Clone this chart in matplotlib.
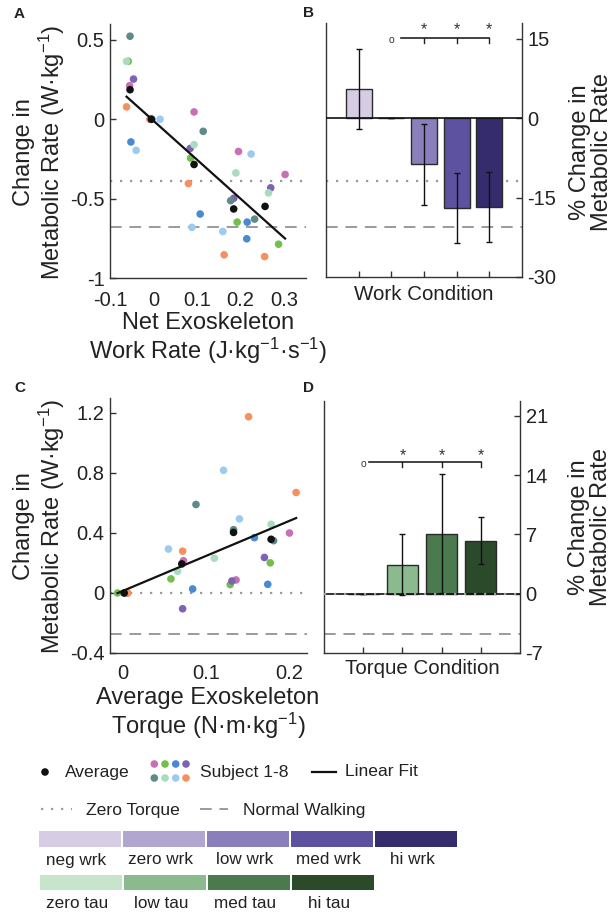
import numpy as np
import matplotlib
matplotlib.use("Agg")
import matplotlib.pyplot as plt
from matplotlib.patches import Rectangle
from matplotlib.lines import Line2D

plt.rcParams['font.family'] = ['Liberation Sans', 'DejaVu Sans']
plt.rcParams['mathtext.fontset'] = 'custom'
plt.rcParams['mathtext.rm'] = 'Liberation Sans'
plt.rcParams['mathtext.it'] = 'Liberation Sans:italic'
plt.rcParams['mathtext.bf'] = 'Liberation Sans:bold'
plt.rcParams['text.color'] = '#222222'

# ---------------- data ----------------
subject_colors = ['#c870b5', '#72bf4e', '#4a8ad5', '#7c63b3',
                  '#5e8a89', '#a9dcbf', '#9dcbef', '#f6905f']

# Panel A: net exoskeleton work rate vs change in metabolic rate (per subject, per condition)
work_x = {
    'neg':  [-0.055, -0.058, -0.052, -0.046, -0.054, -0.062, -0.040, -0.062],
    'zero': [-0.008, -0.006, -0.004, -0.005, -0.006, -0.004, 0.015, -0.008],
    'low':  [0.093, 0.085, 0.107, 0.084, 0.114, 0.093, 0.088, 0.080],
    'med':  [0.195, 0.192, 0.214, 0.184, 0.177, 0.189, 0.159, 0.162],
    'hi':   [0.302, 0.287, 0.215, 0.269, 0.232, 0.264, 0.224, 0.255],
}
work_y = {
    'neg':  [0.211, 0.365, -0.143, 0.253, 0.523, 0.365, -0.196, 0.078],
    'zero': [0.0, 0.0, 0.0, 0.0, 0.0, 0.0, 0.0, 0.0],
    'low':  [0.046, -0.245, -0.597, -0.184, -0.076, -0.160, -0.681, -0.405],
    'med':  [-0.203, -0.648, -0.753, -0.498, -0.513, -0.338, -0.707, -0.854],
    'hi':   [-0.348, -0.787, -0.648, -0.432, -0.629, -0.464, -0.219, -0.865],
}
work_avg_x = [-0.054, -0.005, 0.093, 0.184, 0.256]
work_avg_y = [0.186, 0.0, -0.285, -0.565, -0.549]
work_zero_torque = -0.39
work_normal_walk = -0.68

# Panel B: percent change in metabolic rate per work condition
work_labels = ['neg wrk', 'zero wrk', 'low wrk', 'med wrk', 'hi wrk']
work_pct = [5.5, 0.0, -8.7, -17.0, -16.7]
work_pct_err = [7.6, 0.0, 7.7, 6.6, 6.6]
work_colors = ['#d6cde5', '#b1a6d0', '#8a7fba', '#5d52a0', '#352c6d']
work_pct_zero_torque = -11.8
work_pct_normal_walk = -20.5

# Panel C: average exoskeleton torque vs change in metabolic rate
tau_x = {
    'zero': [0.004, -0.006, 0.006, 0.004, 0.003, 0.002, 0.004, 0.006],
    'low':  [0.073, 0.058, 0.084, 0.072, 0.088, 0.066, 0.055, 0.072],
    'med':  [0.136, 0.129, 0.158, 0.131, 0.133, 0.110, 0.121, 0.151],
    'hi':   [0.200, 0.177, 0.174, 0.170, 0.181, 0.178, 0.140, 0.208],
}
tau_y = {
    'zero': [0.0, 0.0, 0.0, 0.0, 0.0, 0.0, 0.0, 0.0],
    'low':  [0.215, 0.094, 0.027, -0.105, 0.590, 0.145, 0.293, 0.279],
    'med':  [0.087, 0.056, 0.369, 0.080, 0.422, 0.232, 0.818, 1.175],
    'hi':   [0.400, 0.201, 0.058, 0.237, 0.349, 0.458, 0.494, 0.670],
}
tau_avg_x = [0.002, 0.071, 0.133, 0.178]
tau_avg_y = [0.0, 0.194, 0.404, 0.358]
tau_zero_torque = 0.0
tau_normal_walk = -0.275

# Panel D: percent change in metabolic rate per torque condition
tau_labels = ['zero tau', 'low tau', 'med tau', 'hi tau']
tau_pct = [0.0, 3.4, 7.1, 6.25]
tau_pct_err = [0.0, 3.6, 7.0, 2.8]
tau_colors = ['#c6e5cb', '#8bba8f', '#4a7a4e', '#2a4a2a']
tau_pct_normal_walk = -4.8

# ---------------- styling helpers ----------------
AX_COL = '#333333'
GRAY = '#9a9a9a'
TICK_FS = 14.5
LABEL_FS = 17
COND_FS = 14.8
W_PX, H_PX = 615, 915


def style_axes(ax):
    for s in ax.spines.values():
        s.set_color(AX_COL)
        s.set_linewidth(1.0)
    ax.tick_params(direction='in', length=4, width=1.0, color=AX_COL,
                   labelsize=TICK_FS, labelcolor='#222222', pad=4)


def px_axes(fig, left, top, right, bottom):
    return fig.add_axes([left / W_PX, 1 - bottom / H_PX,
                         (right - left) / W_PX, (bottom - top) / H_PX])


def ftext(fig, x, y, s, **kw):
    return fig.text(x / W_PX, 1 - y / H_PX, s, **kw)


fig = plt.figure(figsize=(6.15, 9.15), dpi=100)

YLAB = 'Change in\nMetabolic Rate (W·kg$^{-1}$)'
PCT_LAB = '% Change in\nMetabolic Rate'

# ---------------- Panel A ----------------
axA = px_axes(fig, 110, 24, 306, 278)
style_axes(axA)
axA.spines['top'].set_visible(False)
axA.spines['right'].set_visible(False)
axA.set_xlim(-0.1, 0.35)
axA.set_ylim(-1.0, 0.6)
axA.set_xticks([-0.1, 0, 0.1, 0.2, 0.3])
axA.set_xticklabels(['-0.1', '0', '0.1', '0.2', '0.3'])
axA.set_yticks([-1, -0.5, 0, 0.5])
axA.set_yticklabels(['-1', '-0.5', '0', '0.5'])
axA.tick_params(axis='x', length=0, pad=9)
axA.axhline(work_zero_torque, color=GRAY, ls=(0, (1, 3.5)), lw=1.6, zorder=1)
axA.axhline(work_normal_walk, color=GRAY, ls=(0, (6, 4)), lw=1.4, zorder=1)
for cond in work_x:
    axA.scatter(work_x[cond], work_y[cond], s=30, c=subject_colors, edgecolors='none', zorder=3)
axA.scatter(work_avg_x, work_avg_y, s=30, c='#111111', edgecolors='none', zorder=4)
allx = np.concatenate([work_x[c] for c in work_x])
ally = np.concatenate([work_y[c] for c in work_y])
p = np.polyfit(allx, ally, 1)
fx = np.array([allx.min(), allx.max()])
axA.plot(fx, np.polyval(p, fx), color='#111111', lw=1.6, zorder=5)
ftext(fig, 40, 152, YLAB, fontsize=LABEL_FS, rotation=90, ha='center', va='center',
      linespacing=1.05, multialignment='center')
ftext(fig, 208, 339, 'Net Exoskeleton\nWork Rate (J·kg$^{-1}$·s$^{-1}$)', fontsize=LABEL_FS,
      ha='center', va='center', linespacing=1.05, multialignment='center')
ftext(fig, 14, 14, 'A', fontsize=11, fontweight='bold', va='center', ha='left')


def bar_panel(ax, vals, errs, colors, ylim, yticks):
    style_axes(ax)
    ax.spines['top'].set_visible(False)
    n = len(vals)
    pos = np.arange(1, n + 1)
    ax.set_xlim(0, n + 1)
    ax.set_ylim(*ylim)
    ax.bar(pos, vals, width=0.8, color=colors, edgecolor='#2a2a2a', linewidth=1.0, zorder=3)
    ax.errorbar(pos, vals, yerr=errs, fmt='none', ecolor='#111111', elinewidth=1.0,
                capsize=2.5, capthick=1.0, zorder=4)
    ax.set_xticks(pos)
    ax.set_xticklabels([])
    ax.yaxis.tick_right()
    ax.set_yticks(yticks)
    ax.set_yticklabels([str(t) for t in yticks])
    ax.tick_params(axis='y', left=False)
    return pos


def sig_bracket(ax, pos, y, tick_drop, star_y, x_start, circle_x):
    ax.plot([x_start, pos[-1]], [y, y], color='#222222', lw=1.2, zorder=5)
    for xp in pos:
        ax.plot([xp, xp], [y, y - tick_drop], color='#222222', lw=1.0, zorder=5)
        ax.text(xp, star_y, '*', ha='center', va='center', fontsize=11.5, color='#333333')
    ax.text(circle_x, y - tick_drop * 0.4, 'o', ha='center', va='center', fontsize=7.5,
            color='#333333')


# ---------------- Panel B ----------------
axB = px_axes(fig, 326, 23, 522, 277)
posB = bar_panel(axB, work_pct, work_pct_err, work_colors, (-30, 18), [-30, -15, 0, 15])
axB.axhline(0, color='#111111', lw=1.2, zorder=5)
axB.axhline(work_pct_zero_torque, color=GRAY, ls=(0, (1, 3.5)), lw=1.6, zorder=1)
axB.axhline(work_pct_normal_walk, color=GRAY, ls=(0, (6, 4)), lw=1.4, zorder=1)
sig_bracket(axB, posB[2:], 15.2, 1.0, 16.8, 2.3, 2.0)
ftext(fig, 424, 295, 'Work Condition', fontsize=COND_FS, ha='center', va='center')
ftext(fig, 591, 152, PCT_LAB, fontsize=LABEL_FS, rotation=90, ha='center', va='center',
      linespacing=1.05, multialignment='center')
ftext(fig, 303, 13, 'B', fontsize=11, fontweight='bold', va='center', ha='left')

# ---------------- Panel C ----------------
axC = px_axes(fig, 110, 398, 307, 653)
style_axes(axC)
axC.spines['top'].set_visible(False)
axC.spines['right'].set_visible(False)
axC.set_xlim(-0.015, 0.221)
axC.set_ylim(-0.4, 1.3)
axC.set_xticks([0, 0.1, 0.2])
axC.set_xticklabels(['0', '0.1', '0.2'])
axC.set_yticks([-0.4, 0, 0.4, 0.8, 1.2])
axC.set_yticklabels(['-0.4', '0', '0.4', '0.8', '1.2'])
axC.tick_params(axis='x', length=0, pad=8)
axC.axhline(tau_zero_torque, color=GRAY, ls=(0, (1, 3.5)), lw=1.6, zorder=1)
axC.axhline(tau_normal_walk, color=GRAY, ls=(0, (6, 4)), lw=1.4, zorder=1)
for cond in tau_x:
    axC.scatter(tau_x[cond], tau_y[cond], s=30, c=subject_colors, edgecolors='none', zorder=3)
axC.scatter(tau_avg_x, tau_avg_y, s=30, c='#111111', edgecolors='none', zorder=4)
tx = np.concatenate([tau_x[c] for c in tau_x])
ty = np.concatenate([tau_y[c] for c in tau_y])
q = np.polyfit(tx, ty, 1)
gx = np.array([tx.min(), tx.max()])
axC.plot(gx, np.polyval(q, gx), color='#111111', lw=1.6, zorder=5)
ftext(fig, 40, 526, YLAB, fontsize=LABEL_FS, rotation=90, ha='center', va='center',
      linespacing=1.05, multialignment='center')
ftext(fig, 208, 714, 'Average Exoskeleton\nTorque (N·m·kg$^{-1}$)', fontsize=LABEL_FS,
      ha='center', va='center', linespacing=1.05, multialignment='center')
ftext(fig, 14, 388, 'C', fontsize=11, fontweight='bold', va='center', ha='left')

# ---------------- Panel D ----------------
axD = px_axes(fig, 324, 401, 520, 653)
posD = bar_panel(axD, tau_pct, tau_pct_err, tau_colors, (-7, 22.75), [-7, 0, 7, 14, 21])
axD.axhline(0, color='#111111', lw=1.2, zorder=5)
axD.axhline(0, color=GRAY, ls=(0, (1, 3.5)), lw=1.6, zorder=6)
axD.axhline(tau_pct_normal_walk, color=GRAY, ls=(0, (6, 4)), lw=1.4, zorder=1)
sig_bracket(axD, posD[1:], 15.5, 0.6, 16.3, 1.15, 1.0)
ftext(fig, 422, 668, 'Torque Condition', fontsize=COND_FS, ha='center', va='center')
ftext(fig, 590, 527, PCT_LAB, fontsize=LABEL_FS, rotation=90, ha='center', va='center',
      linespacing=1.05, multialignment='center')
ftext(fig, 303, 388, 'D', fontsize=11, fontweight='bold', va='center', ha='left')

# ---------------- legend ----------------
lg = fig.add_axes([0, 0, 1, 1], zorder=-1)
lg.set_xlim(0, W_PX)
lg.set_ylim(H_PX, 0)
lg.axis('off')
LEG_FS = 12.6
lg.scatter([45], [772], s=30, c='#111111', edgecolors='none')
lg.text(65, 772, 'Average', fontsize=LEG_FS, va='center')
dot_x = [154.3, 165, 175.7, 186]
for i, col in enumerate(subject_colors):
    lg.scatter([dot_x[i % 4]], [764 if i < 4 else 778], s=30, c=col, edgecolors='none')
lg.text(200, 772, 'Subject 1-8', fontsize=LEG_FS, va='center')
lg.add_line(Line2D([312, 336], [772, 772], color='#111111', lw=1.6))
lg.text(345, 772, 'Linear Fit', fontsize=LEG_FS, va='center')
lg.add_line(Line2D([41, 72], [809, 809], color=GRAY, ls=(0, (1, 3.5)), lw=1.6))
lg.text(86, 811, 'Zero Torque', fontsize=LEG_FS, va='center')
lg.add_line(Line2D([200, 228], [809, 809], color=GRAY, ls=(0, (6, 4)), lw=1.4))
lg.text(243, 811, 'Normal Walking', fontsize=LEG_FS, va='center')

seg_w = 82.0
SW_FS = 12.3
for i, (lab, col) in enumerate(zip(work_labels, work_colors)):
    x0 = 38.5 + i * 84.0
    lg.add_patch(Rectangle((x0, 830.5), seg_w, 16, color=col, lw=0))
    lg.text(x0 + seg_w / 2 - 3, 860, lab, fontsize=SW_FS, ha='center', va='center')
for i, (lab, col) in enumerate(zip(tau_labels, tau_colors)):
    x0 = 40.0 + i * 84.0
    lg.add_patch(Rectangle((x0, 874.5), seg_w, 15.5, color=col, lw=0))
    lg.text(x0 + seg_w / 2 - 4, 903, lab, fontsize=SW_FS, ha='center', va='center')

fig.savefig('out.png', dpi=100)
